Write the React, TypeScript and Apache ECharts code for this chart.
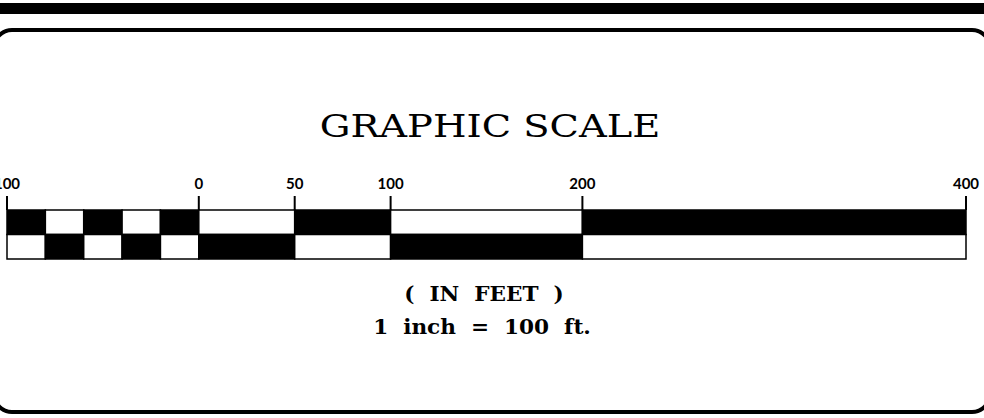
import React, { useEffect, useRef } from "react";
import * as echarts from "echarts";

// Scale divisions (feet) and the fill of each division in the two rows
const segmentBreaks = [-100, -80, -60, -40, -20, 0, 50, 100, 200, 400];
const topRowBlack = [true, false, true, false, true, false, true, false, true];
const bottomRowBlack = [false, true, false, true, false, true, false, true, false];
// Labelled ticks
const tickValues = [-100, 0, 50, 100, 200, 400];
// Texts
const titleText = "GRAPHIC SCALE";
const unitsText = "(  IN  FEET  )";
const ratioText = "1  inch  =  100  ft.";

export default function App() {
  const ref = useRef<HTMLDivElement>(null);
  useEffect(() => {
    const chart = echarts.init(ref.current as HTMLDivElement, null, { renderer: "svg" });
    const data: number[][] = [];
    for (let i = 0; i < segmentBreaks.length - 1; i++) {
      data.push([segmentBreaks[i], segmentBreaks[i + 1], 1, topRowBlack[i] ? 1 : 0]);
      data.push([segmentBreaks[i], segmentBreaks[i + 1], 0, bottomRowBlack[i] ? 1 : 0]);
    }
    const tickData = tickValues.map((v) => [v, 2]);
    chart.setOption({
      animation: false,
      backgroundColor: "#ffffff",
      grid: {
        left: 7,
        right: 18,
        top: 210,
        bottom: 159,
        containLabel: false,
        outerBoundsMode: "none",
      },
      xAxis: {
        type: "value",
        min: -100,
        max: 400,
        position: "top",
        axisLine: { show: false },
        splitLine: { show: false },
        axisTick: { show: false },
        axisLabel: {
          show: true,
          customValues: tickValues,
          formatter: (v: number) => String(Math.abs(v)),
          margin: 20,
          color: "#000",
          fontFamily: "Lato",
          fontWeight: "bold",
          fontSize: 15,
        },
      },
      yAxis: { type: "value", min: 0, max: 2, show: false },
      series: [
        {
          type: "custom",
          data,
          clip: false,
          encode: { x: [0, 1], y: 2 },
          renderItem: (params: any, api: any) => {
            const x0 = api.value(0);
            const x1 = api.value(1);
            const row = api.value(2);
            const black = api.value(3);
            const p0 = api.coord([x0, row]);
            const p1 = api.coord([x1, row + 1]);
            return {
              type: "rect",
              shape: { x: p0[0], y: p1[1], width: p1[0] - p0[0], height: p0[1] - p1[1] },
              style: { fill: black ? "#000" : "#fff", stroke: "#000", lineWidth: 1.5 },
            };
          },
        },
        {
          type: "custom",
          data: tickData,
          clip: false,
          encode: { x: 0, y: 1 },
          renderItem: (params: any, api: any) => {
            const p = api.coord([api.value(0), api.value(1)]);
            return {
              type: "line",
              shape: { x1: p[0], y1: p[1], x2: p[0], y2: p[1] - 14 },
              style: { stroke: "#000", lineWidth: 2 },
            };
          },
        },
      ],
      graphic: [
        { type: "rect", shape: { x: 0, y: 3, width: 984, height: 11 }, style: { fill: "#000" } },
        {
          type: "rect",
          shape: { x: -6, y: 30, width: 996, height: 382, r: 18 },
          style: { fill: "none", stroke: "#000", lineWidth: 4 },
        },
        {
          type: "text",
          x: 490,
          y: 126,
          scaleX: 1.24,
          style: {
            text: titleText,
            font: "normal 31px 'DejaVu Serif'",
            fill: "#000",
            textAlign: "center",
            textVerticalAlign: "middle",
          },
        },
        {
          type: "text",
          x: 484,
          y: 294,
          scaleX: 1.08,
          style: {
            text: unitsText,
            font: "bold 20px 'DejaVu Serif'",
            fill: "#000",
            textAlign: "center",
            textVerticalAlign: "middle",
          },
        },
        {
          type: "text",
          x: 482,
          y: 327,
          scaleX: 1.08,
          style: {
            text: ratioText,
            font: "bold 20px 'DejaVu Serif'",
            fill: "#000",
            textAlign: "center",
            textVerticalAlign: "middle",
          },
        },
      ],
    });
    return () => chart.dispose();
  }, []);
  return (
    <div
      ref={ref}
      style={{ position: "absolute", left: 0, top: 0, width: 984, height: 418 }}
    />
  );
}
